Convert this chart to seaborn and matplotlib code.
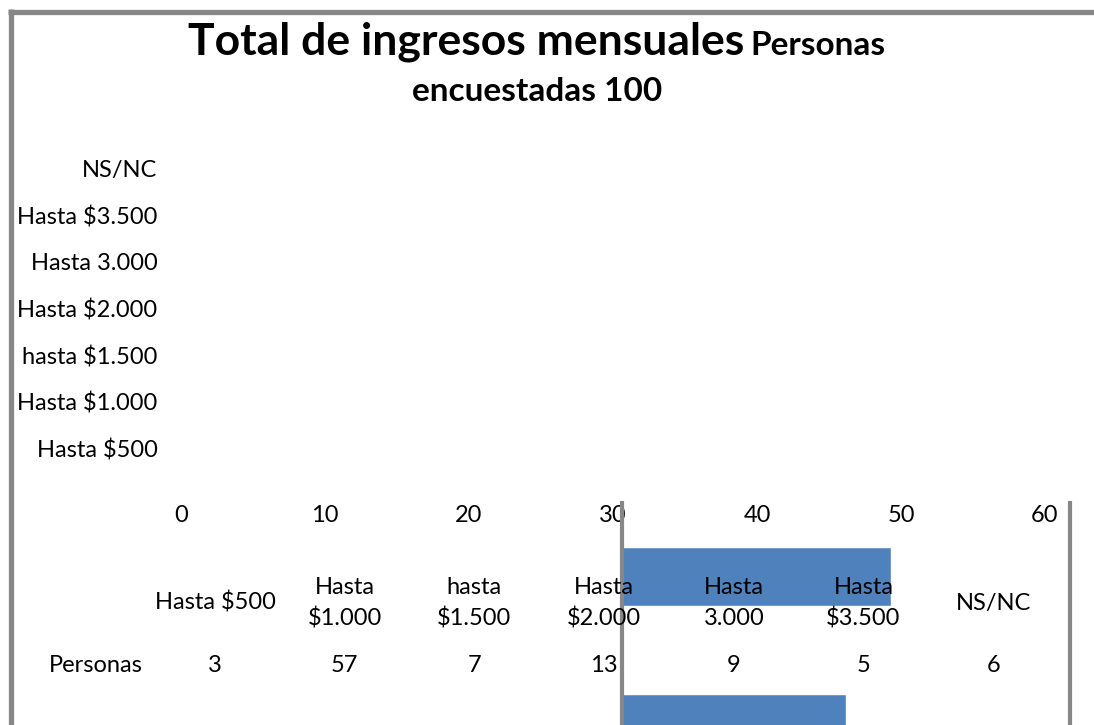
import matplotlib
matplotlib.use("Agg")
import matplotlib.pyplot as plt
from matplotlib.lines import Line2D
import seaborn as sns
import pandas as pd

# ---- data ----
categories = ["Hasta $500", "Hasta $1.000", "hasta $1.500", "Hasta $2.000",
              "Hasta 3.000", "Hasta $3.500", "NS/NC"]
table_headers = ["Hasta $500", "Hasta\n$1.000", "hasta\n$1.500", "Hasta\n$2.000",
                 "Hasta\n3.000", "Hasta\n$3.500", "NS/NC"]
personas = [3, 57, 7, 13, 9, 5, 6]
x_ticks = [0, 10, 20, 30, 40, 50, 60]
title_main = "Total de ingresos mensuales"
title_sub1 = "Personas"
title_sub2 = "encuestadas 100"
row_label = "Personas"

df = pd.DataFrame({"Categoria": categories, "Personas": personas})
order_top_down = categories[::-1]

sns.set_theme(style="white")
plt.rcParams["font.family"] = ["Lato", "DejaVu Sans"]

W, H = 1094, 725
fig = plt.figure(figsize=(W / 100, H / 100), dpi=100)
fig.patch.set_facecolor("white")


def fx(x):
    return x / W


def fy(y):
    return 1 - y / H


def rect(l, t, r, b):
    return [fx(l), fy(b), (r - l) / W, (b - t) / H]


GRAY = "#878787"
BLUE = "#4F81BD"
LBL = 17

# ---- main plot area (categories only, bars not rendered in this region) ----
ax = fig.add_axes(rect(181, 145, 1045, 472))
sns.barplot(data=df, x="Personas", y="Categoria", order=order_top_down,
            color=BLUE, alpha=0, linewidth=0, ax=ax, width=0.4)
ax.set_xlim(0, 60)
ax.set_xticks(x_ticks)
ax.set_xticklabels([str(t) for t in x_ticks])
ax.set_xlabel("")
ax.set_ylabel("")
for s in ax.spines.values():
    s.set_visible(False)
ax.tick_params(axis="x", length=0, pad=24, labelsize=LBL, labelcolor="black")
ax.tick_params(axis="y", length=0, pad=17, labelsize=LBL, labelcolor="black")
ax.set_facecolor("none")

# ---- zoomed copy region (clipped) ----
ax2 = fig.add_axes(rect(622, 503, 1070, 503 + 7 * 147))
sns.barplot(data=df, x="Personas", y="Categoria", order=order_top_down,
            color=BLUE, saturation=1, width=0.4, ax=ax2)
ax2.set_xlim(0, 10)
ax2.set_xticks([])
ax2.set_yticks([])
ax2.set_xlabel("")
ax2.set_ylabel("")
ax2.set_facecolor("none")
for side in ["top", "bottom"]:
    ax2.spines[side].set_visible(False)
for side in ["left", "right"]:
    ax2.spines[side].set_visible(True)
    ax2.spines[side].set_color(GRAY)
    ax2.spines[side].set_linewidth(3)

# ---- data table ----
col0, dcol = 215, 129.7
for i, (hdr, val) in enumerate(zip(table_headers, personas)):
    cx = col0 + i * dcol
    lines = hdr.split("\n")
    if len(lines) == 1:
        fig.text(fx(cx), fy(610), lines[0], ha="center", va="baseline",
                 fontsize=LBL, color="black")
    else:
        fig.text(fx(cx), fy(594), lines[0], ha="center", va="baseline",
                 fontsize=LBL, color="black")
        fig.text(fx(cx), fy(625), lines[1], ha="center", va="baseline",
                 fontsize=LBL, color="black")
    fig.text(fx(cx), fy(672), str(val), ha="center", va="baseline",
             fontsize=LBL, color="black")
fig.text(fx(143), fy(672), row_label, ha="right", va="baseline", fontsize=LBL,
         color="black")

# ---- title ----
fig.text(fx(188), fy(55), title_main, ha="left", va="baseline",
         fontsize=32, fontweight="bold", color="black")
fig.text(fx(750), fy(55), title_sub1, ha="left", va="baseline",
         fontsize=24, fontweight="bold", color="black")
fig.text(fx(537), fy(101), title_sub2, ha="center", va="baseline",
         fontsize=24, fontweight="bold", color="black")

# ---- outer frame ----
fig.add_artist(Line2D([fx(10.5), fx(10.5)], [fy(9), fy(725)], color=GRAY,
                      linewidth=3.8, transform=fig.transFigure,
                      solid_capstyle="butt"))
fig.add_artist(Line2D([fx(8), fx(1094)], [fy(11.5), fy(11.5)], color=GRAY,
                      linewidth=3.8, transform=fig.transFigure,
                      solid_capstyle="butt"))

fig.savefig("out.png", dpi=100)
